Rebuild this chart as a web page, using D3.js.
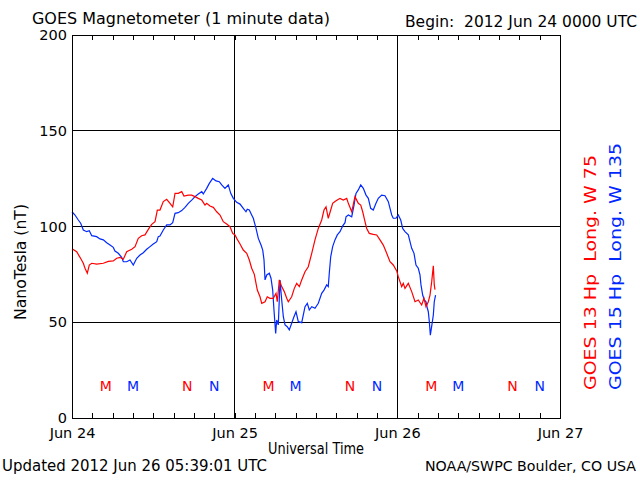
<!DOCTYPE html>
<html><head><meta charset="utf-8">
<script src="https://cdn.jsdelivr.net/npm/d3@7"></script>
<style>body{margin:0;background:#fff}svg{display:block}text{font-family:"DejaVu Sans",sans-serif;white-space:pre;}</style>
</head><body><svg id="c" width="640" height="480"></svg>
<script>
// ---- data (hours since 2012 Jun 24 00:00 UTC, nT) ----
const g13Hours = [0,0.69,1.18,1.67,1.92,2.26,2.55,2.91,3.64,4.62,5.36,6.09,6.6,7.08,7.57,8.07,8.81,9.3,9.78,10.28,10.77,11.26,11.76,12.25,12.59,12.98,13.47,13.97,14.46,14.86,15.2,15.68,16.19,16.52,17.16,17.66,18.15,18.63,19.14,19.62,19.87,20.36,20.85,21.35,21.84,22.32,22.82,23.31,23.71,24.05,24.3,24.79,25.27,25.78,26.16,26.51,26.9,27.34,27.74,27.99,28.48,28.81,29.21,29.7,30.1,30.29,30.59,30.94,31.32,31.68,31.91,32.41,32.8,33.15,33.54,33.89,34.38,34.86,35.37,35.85,36.34,36.84,37.18,37.48,37.81,38.17,38.46,38.8,39.14,39.54,40.03,40.53,40.77,41.27,41.75,42.24,42.6,42.89,43.23,43.48,43.86,44.45,44.96,45.44,45.93,46.43,46.92,47.4,47.91,48.14,48.39,48.64,48.88,49.13,49.62,50.12,50.61,51.09,51.59,51.93,52.23,52.57,52.82,53.07,53.31,53.45,53.56];
const g13Values = [88.4,86.8,83.9,80.8,78.2,75.6,79.9,80.8,80.4,80.8,81.8,82,83.4,83.9,82.9,86.8,88.1,89.5,93.8,95.2,95.6,98.5,101.1,102.5,108.6,108.6,113,114.2,112.1,110.3,117.3,117.3,118.2,115.9,116.4,116.4,115.6,114.7,113.8,111.2,112.1,110.7,110,107.7,106,102.5,101.3,99.9,96.4,95.6,93.8,90.9,87.7,86,82.5,78.2,75,66.8,63.3,59.9,60.7,63.3,62.5,62.5,65.1,60.7,72.1,68.6,66,62.5,60.7,63.3,67.7,70.3,68.6,72.1,76.4,79,86,93,99,103.4,108.6,110.3,104.3,108.6,112.1,113,113.8,114.7,113.8,114.7,112.1,107.7,115.6,112.1,111.2,107.7,102.5,99,96.4,95.9,95.6,93,90.3,86,81.6,79.9,76.8,73.8,71.2,68.6,70.3,67.7,70.3,66,60.7,61.6,59,62.5,58.1,60.7,64.2,71.2,79.5,69.5,67];
const g15Hours = [0,0.44,0.93,1.28,1.67,2.17,2.55,2.91,3.64,4.13,4.62,5.12,5.61,6.09,6.34,6.83,7.33,7.57,8.07,8.56,9.04,9.55,10.03,10.52,11.02,11.51,11.99,12.5,12.73,12.98,13.47,13.97,14.46,14.86,15.2,15.68,16.19,16.67,17.16,17.66,18.15,18.63,19.14,19.37,19.87,20.26,20.76,21.25,21.73,22.09,22.57,23.06,23.42,23.8,24.3,24.79,25.27,25.67,25.86,26.16,26.51,26.75,27.15,27.49,27.89,28.14,28.33,28.48,28.73,29.11,29.36,29.61,29.8,30.05,30.2,30.44,30.69,30.94,31.18,31.43,31.76,32.06,32.41,32.75,33.05,33.39,33.89,34.38,34.72,35.01,35.37,35.85,36.34,36.84,37.18,37.58,37.81,37.96,38.17,38.46,38.8,39.14,39.54,39.94,40.28,40.43,40.77,41.27,41.61,41.9,42.24,42.6,42.98,43.38,43.72,44.07,44.45,44.85,45.19,45.69,46.18,46.67,46.92,47.17,47.4,47.8,48.14,48.5,48.79,49.13,49.62,49.87,50.12,50.46,50.75,51.09,51.34,51.49,51.74,51.98,52.23,52.43,52.57,52.72,52.87,53.02,53.17,53.31,53.45,53.64];
const g15Values = [107.7,106,103.4,101.7,98.2,97.3,97.8,95.2,94.7,93.5,93,91.5,90.3,89.1,87.2,86,83.9,81.6,81.6,82.5,79.9,83.4,85.1,86.3,88.1,89.5,90.9,92.1,94.7,95,98.2,100.8,100.8,102,106.9,107.2,108.3,110,112.1,113.8,115.6,117,118.2,117,119.9,122.5,125.1,123.8,123.4,121.7,119.9,121.7,117.3,114.7,112.6,111.7,109.5,107.7,109,108.6,106,104.3,99,93.8,90.3,87.7,82.5,72.1,74.7,75.6,73,66.8,56.4,44.2,51.2,48.6,72.1,61.6,52.9,48.6,47.7,46,49.5,52.9,55.5,50.3,49.8,58.1,59.9,56.4,58.1,57.3,59.9,65.1,66.8,69.5,68.6,75.6,84.2,89.5,93,95.6,97.3,100.3,102,105.1,106,105.1,111.2,117.3,119.1,121.7,119.9,116.4,114.7,109.5,108.6,112.1,114.7,116.4,116.1,113,109.5,106,104.3,104.3,106,103.4,99,97.3,95.6,92.1,88.6,86,79.9,78.2,74.7,69.5,64.2,61.6,60.7,57.3,55.5,50.3,43.3,46.8,50.3,53.8,60.7,64.2];
const dayTicks = [0,24,48,72];
const dayLabels = ["Jun 24","Jun 25","Jun 26","Jun 27"];
const yTicks = [0,50,100,150,200];
const g13Midnight = [5,29,53], g13Noon = [17,41,65];
const g15Midnight = [9,33,57], g15Noon = [21,45,69];

const RED = "#ff0000", BLUE = "#0028ff";
const L = 72, R = 560, T = 35, B = 418;
const svg = d3.select("#c");
const x = d3.scaleLinear().domain([0,72]).range([L,R]);
const y = d3.scaleLinear().domain([0,200]).range([B,T]);

// grid
const grid = svg.append("g").attr("shape-rendering","crispEdges");
grid.selectAll("line.h").data([50,100,150]).join("line")
  .attr("x1",L).attr("x2",R).attr("y1",d=>y(d)).attr("y2",d=>y(d)).attr("stroke","#000");
grid.selectAll("line.v").data([24,48]).join("line")
  .attr("y1",T).attr("y2",B).attr("x1",d=>x(d)).attr("x2",d=>x(d)).attr("stroke","#000");

// minor ticks on top and bottom (every 3 h)
const minor = d3.range(0,73,3);
const bAx = svg.append("g").attr("transform",`translate(0,${B})`)
  .call(d3.axisBottom(x).tickValues(minor).tickSize(-5).tickFormat(""));
const tAx = svg.append("g").attr("transform",`translate(0,${T})`)
  .call(d3.axisTop(x).tickValues(minor).tickSize(-5).tickFormat(""));
[bAx,tAx].forEach(g=>{g.select(".domain").remove();g.selectAll("line").attr("stroke","#000").attr("shape-rendering","crispEdges");});

// data lines
const line = d3.line().x(d=>x(d[0])).y(d=>y(d[1]));
const s13 = g13Hours.map((h,i)=>[h,g13Values[i]]);
const s15 = g15Hours.map((h,i)=>[h,g15Values[i]]);
svg.append("path").datum(s15).attr("d",line).attr("fill","none").attr("stroke",BLUE).attr("stroke-width",1.2);
svg.append("path").datum(s13).attr("d",line).attr("fill","none").attr("stroke",RED).attr("stroke-width",1.2);

// frame
svg.append("rect").attr("x",L).attr("y",T).attr("width",R-L).attr("height",B-T)
  .attr("fill","none").attr("stroke","#000").attr("shape-rendering","crispEdges");

// axis labels
const yAx = svg.append("g").attr("transform",`translate(${L},0)`)
  .call(d3.axisLeft(y).tickValues(yTicks).tickSize(0).tickPadding(5));
const xAx = svg.append("g").attr("transform",`translate(0,${B})`)
  .call(d3.axisBottom(x).tickValues(dayTicks).tickSize(0).tickPadding(10).tickFormat((d,i)=>dayLabels[i]));
[yAx,xAx].forEach(g=>{g.select(".domain").remove();g.selectAll("text").attr("font-size",14.5).attr("font-family","DejaVu Sans").attr("fill","#000");});

// M / N markers
const mk = [];
g13Midnight.forEach(h=>mk.push([h,"M",RED])); g13Noon.forEach(h=>mk.push([h,"N",RED]));
g15Midnight.forEach(h=>mk.push([h,"M",BLUE])); g15Noon.forEach(h=>mk.push([h,"N",BLUE]));
svg.selectAll("text.mk").data(mk).join("text").attr("class","mk")
  .attr("x",d=>x(d[0])).attr("y",386).attr("dy","0.35em").attr("text-anchor","middle")
  .attr("font-size",14).attr("fill",d=>d[2]).text(d=>d[1]);

function txt(s,x0,y0,len,opts={}){
  const t = svg.append("text").attr("x",x0).attr("y",y0).attr("dy","0.35em")
    .attr("font-size",opts.size||15).attr("fill",opts.fill||"#000").text(s);
  if(len){t.attr("textLength",len).attr("lengthAdjust","spacingAndGlyphs");}
  if(opts.anchor) t.attr("text-anchor",opts.anchor);
  if(opts.rotate) t.attr("transform",`rotate(-90,${x0},${y0})`);
  return t;
}
txt("GOES Magnetometer (1 minute data)",32,18,298,{size:16});
txt("Begin:\u00a0\u00a02012 Jun 24 0000 UTC",637,22,232,{anchor:"end"});
txt("Universal Time",268,449,96);
txt("Updated 2012 Jun 26 05:39:01 UTC",2,466,265,{size:15});
txt("NOAA/SWPC Boulder, CO USA",636,466,211,{size:14,anchor:"end"});
txt("NanoTesla (nT)",20,320,116,{size:16,rotate:true});
txt("GOES 13 Hp\u00a0\u00a0Long. W 75",590,390,235,{size:16,rotate:true,fill:RED});
txt("GOES 15 Hp\u00a0\u00a0Long. W 135",615,390,247,{size:16,rotate:true,fill:BLUE});
</script></body></html>
